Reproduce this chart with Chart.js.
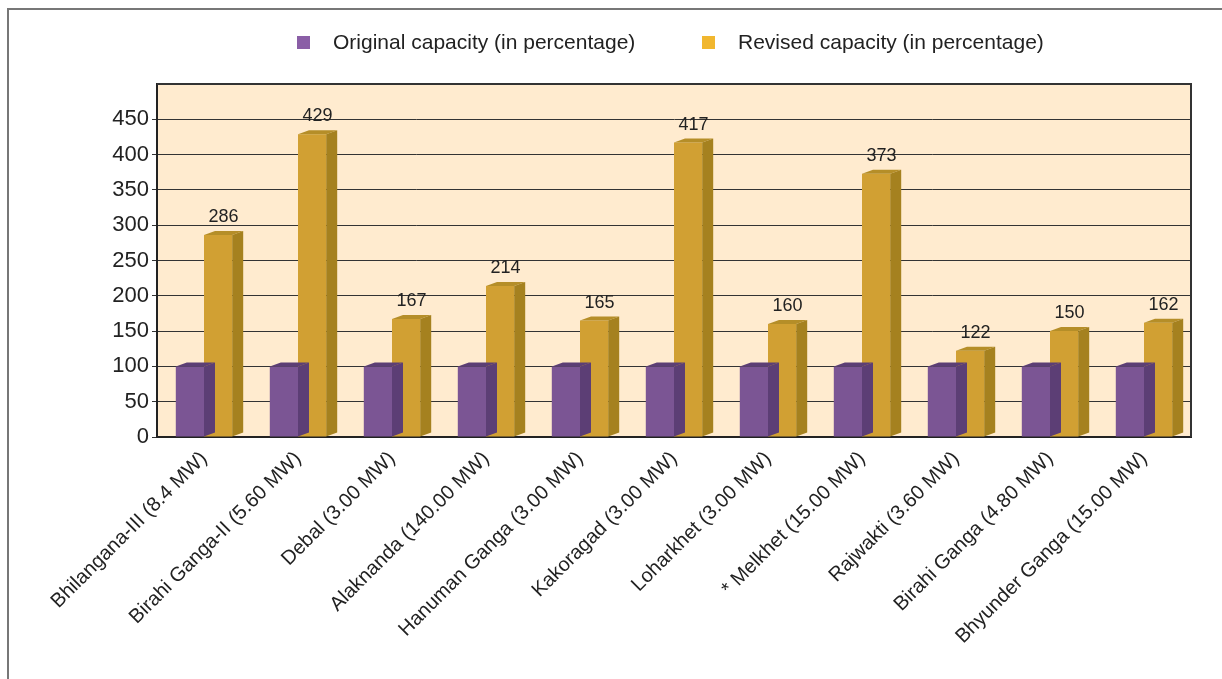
<!DOCTYPE html>
<html lang="en">
<head>
<meta charset="UTF-8">
<title>Capacity</title>
<script src="https://cdn.jsdelivr.net/npm/chart.js@4.4.1/dist/chart.umd.min.js"></script>
<style>
  body { margin: 0; background: #fff; font-family: "Liberation Sans", Arial, sans-serif; }
  #wrap { position: relative; width: 1222px; height: 679px; }
  #frame { position: absolute; left: 7px; top: 8px; right: 0; bottom: 0; border-left: 2px solid #777; border-top: 2px solid #777; }
  #legend { position: absolute; top: 29px; left: 0; width: 1222px; font-size: 21px; line-height: 26px; color: #222; }
  .item { position: absolute; top: 0; white-space: nowrap; }
  .box { position: absolute; top: 7px; width: 13px; height: 13px; }
  canvas { position: absolute; left: 0; top: 0; }
</style>
</head>
<body>
<div id="wrap">
  <div id="frame"></div>
  <canvas id="chart" width="1222" height="679"></canvas>
  <div id="legend">
    <div class="item" style="left:297px"><span class="box" style="background:#8A5EA6"></span><span style="margin-left:36px">Original capacity (in percentage)</span></div>
    <div class="item" style="left:702px"><span class="box" style="background:#F1B72F"></span><span style="margin-left:36px">Revised capacity (in percentage)</span></div>
  </div>
</div>
<script>

const projects = [
  'Bhilangana-III (8.4 MW)', 'Birahi Ganga-II (5.60 MW)', 'Debal (3.00 MW)',
  'Alaknanda (140.00 MW)', 'Hanuman Ganga (3.00 MW)', 'Kakoragad (3.00 MW)',
  'Loharkhet (3.00 MW)', '* Melkhet (15.00 MW)', 'Rajwakti (3.60 MW)',
  'Birahi Ganga (4.80 MW)', 'Bhyunder Ganga (15.00 MW)'
];
const original = [100, 100, 100, 100, 100, 100, 100, 100, 100, 100, 100];
const revised = [286, 429, 167, 214, 165, 417, 160, 373, 122, 150, 162];
const yTicks = [0, 50, 100, 150, 200, 250, 300, 350, 400, 450];

const FONT = '"Liberation Sans", Arial, sans-serif';
const DX = 11, DY = 4;
const faces = [
  { top: '#5C3E75', side: '#5C3E75' },
  { top: '#B58E28', side: '#A5811F' }
];

// fake 3d: top and side face for every bar, drawn right after its dataset
const depth = {
  id: 'depth',
  afterDatasetDraw(chart, args) {
    const ctx = chart.ctx;
    const f = faces[args.index];
    args.meta.data.forEach(bar => {
      const p = bar.getProps(['x', 'y', 'base', 'width'], true);
      const l = p.x - p.width / 2, r = p.x + p.width / 2;
      ctx.save();
      ctx.fillStyle = f.top;
      ctx.beginPath();
      ctx.moveTo(l, p.y); ctx.lineTo(l + DX, p.y - DY); ctx.lineTo(r + DX, p.y - DY); ctx.lineTo(r, p.y);
      ctx.closePath(); ctx.fill();
      ctx.fillStyle = f.side;
      ctx.beginPath();
      ctx.moveTo(r, p.y); ctx.lineTo(r + DX, p.y - DY); ctx.lineTo(r + DX, p.base - DY); ctx.lineTo(r, p.base);
      ctx.closePath(); ctx.fill();
      ctx.restore();
    });
  },
  afterDatasetsDraw(chart) {
    const ctx = chart.ctx;
    ctx.save();
    ctx.font = '18px ' + FONT;
    ctx.fillStyle = '#222';
    ctx.textAlign = 'center';
    ctx.textBaseline = 'alphabetic';
    chart.getDatasetMeta(1).data.forEach((bar, i) => {
      ctx.fillText(revised[i], bar.x + DX / 2, bar.y - 13);
    });
    ctx.restore();
  }
};

const plotBg = {
  id: 'plotBg',
  beforeDraw(chart) {
    const { ctx, chartArea: a } = chart;
    ctx.save();
    ctx.fillStyle = '#FFEBCF';
    ctx.fillRect(a.left, a.top, a.right - a.left, a.bottom - a.top);
    ctx.restore();
  },
  beforeDatasetsDraw(chart) {
    const { ctx, chartArea: a } = chart;
    ctx.save();
    ctx.strokeStyle = '#333';
    ctx.lineWidth = 2;
    ctx.beginPath();
    ctx.moveTo(a.left, a.top); ctx.lineTo(a.right, a.top); ctx.lineTo(a.right, a.bottom);
    ctx.stroke();
    ctx.restore();
  }
};

new Chart(document.getElementById('chart'), {
  type: 'bar',
  data: {
    labels: projects,
    datasets: [
      { label: 'Original capacity (in percentage)', data: original, backgroundColor: '#7B5594' },
      { label: 'Revised capacity (in percentage)', data: revised, backgroundColor: '#D1A033' }
    ]
  },
  plugins: [plotBg, depth],
  options: {
    responsive: false,
    animation: false,
    layout: { padding: { top: 84, right: 31, left: 0, bottom: 0 } },
    plugins: { legend: { display: false }, tooltip: { enabled: false } },
    datasets: { bar: { categoryPercentage: 0.6, barPercentage: 1 } },
    scales: {
      x: {
        grid: { display: false },
        border: { color: '#222', width: 2 },
        ticks: {
          autoSkip: false, maxRotation: 45, minRotation: 45, padding: 2,
          color: '#222', font: { size: 20, family: FONT }
        },
        afterFit(s) { s.height = 242; }
      },
      y: {
        min: 0, max: 500,
        afterBuildTicks(s) { s.ticks = yTicks.concat([500]).map(v => ({ value: v })); },
        grid: {
          color: '#333', lineWidth: 1, tickLength: 5,
          tickColor: c => c.tick && c.tick.value === 500 ? 'rgba(0,0,0,0)' : '#333'
        },
        border: { color: '#222', width: 2 },
        ticks: {
          padding: 3, color: '#222',
          font: { size: 22, family: FONT },
          callback: v => yTicks.includes(v) ? v : ''
        },
        afterFit(s) { s.width = 157; }
      }
    }
  }
});
</script>
</body>
</html>
